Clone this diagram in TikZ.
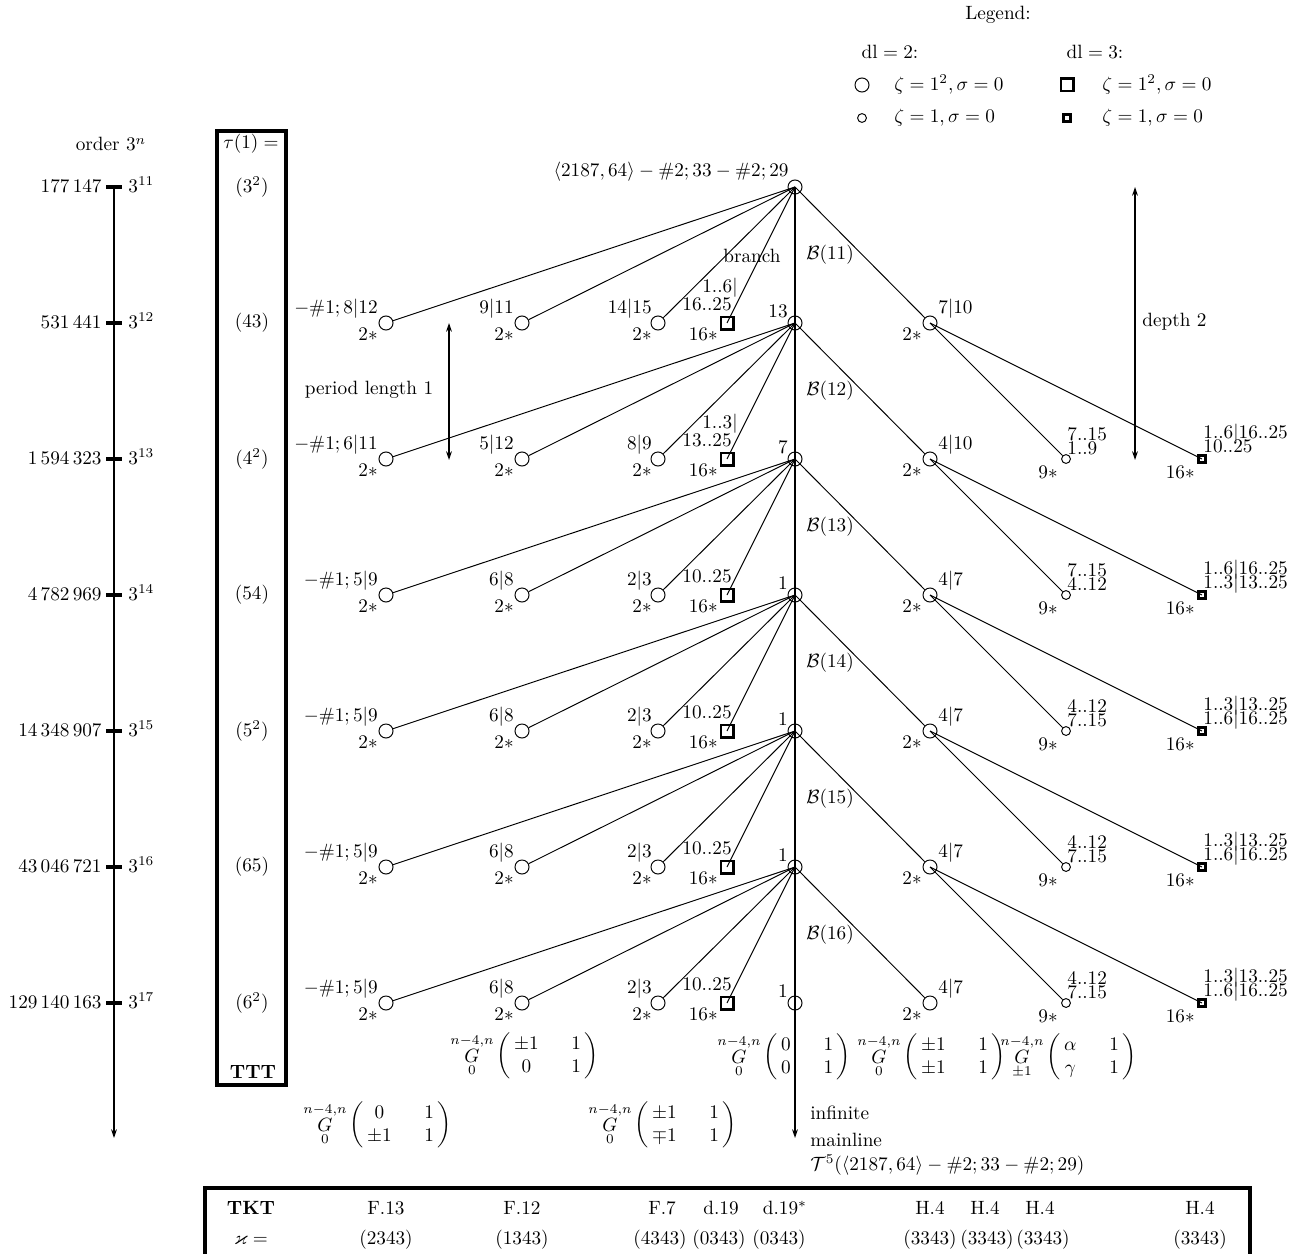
\documentclass[tikz,border=0pt]{standalone}
\usepackage{amsmath,amssymb}
\usetikzlibrary{arrows.meta}
\newcommand\mymat[5]{$\mathop{{G}}\limits^{n-4,n}_{#1}\left(\,\begin{array}{@{}c@{\hspace{17pt}}c@{}}#2&#3\\#4&#5\end{array}\,\right)$}
\newcommand\mylevel[9]{%
 \node[bigc] (a#1) at (386,#3) {};
 \node[lbl,anchor=base east] (a#1t) at (378,#3-10) {#4};
 \node[lbl,anchor=base east] (a#1b) at (378,#3+17) {$2*$};
 \node[bigc] (b#1) at (522,#3) {};
 \node[lbl,anchor=base east] (b#1t) at (514,#3-10) {#5};
 \node[lbl,anchor=base east] (b#1b) at (514,#3+17) {$2*$};
 \node[bigc] (c#1) at (658,#3) {};
 \node[lbl,anchor=base east] (c#1t) at (652,#3-10) {#6};
 \node[lbl,anchor=base east] (c#1b) at (652,#3+17) {$2*$};
 \node[bigsq] (s#1) at (727,#3) {};
 \ifx\relax#7\relax\else\node[lbl,anchor=base east] (s#1u) at (738,#3-31) {#7};\fi
 \node[lbl,anchor=base east] (s#1t) at (732,#3-13) {#8};
 \node[lbl,anchor=base east] (s#1b) at (718,#3+17) {$16*$};
 \node[bigc] (r#1) at (930,#3) {};
 \node[lbl,anchor=base west] (r#1t) at (938,#3-10) {#9};
 \node[lbl,anchor=base east] (r#1b) at (922,#3+17) {$2*$};
 \draw[edge] (m#2.center) -- (a#1);
 \draw[edge] (m#2.center) -- (b#1);
 \draw[edge] (m#2.center) -- (c#1);
 \draw[edge] (m#2.center) -- (s#1.center);
 \draw[edge] (m#2.center) -- (r#1);
}
\newcommand\myright[7]{%
 \node[smallc] (t#1) at (1066,#3) {};
 \node[lbl,anchor=base west] (t#1u) at (1067,#3-19) {#4};
 \node[lbl,anchor=base west] (t#1t) at (1067,#3-5) {#5};
 \node[lbl,anchor=base east] (t#1b) at (1058,#3+19) {$9*$};
 \node[smallsq] (u#1) at (1202,#3) {};
 \node[lbl,anchor=base west] (u#1u) at (1203,#3-21) {#6};
 \node[lbl,anchor=base west] (u#1t) at (1203,#3-7) {#7};
 \node[lbl,anchor=base east] (u#1b) at (1195,#3+19) {$16*$};
 \draw[edge] (r#2.center) -- (t#1);
 \draw[edge] (r#2.center) -- (u#1.center);
}
\begin{document}
\begin{tikzpicture}[x=0.52pt,y=-0.52pt,
  bigc/.style={circle,draw,line width=0.5pt,minimum size=7.3pt,inner sep=0pt},
  smallc/.style={circle,draw,line width=0.5pt,minimum size=4.6pt,inner sep=0pt},
  bigsq/.style={rectangle,draw,line width=1.3pt,minimum size=6.5pt,inner sep=0pt},
  smallsq/.style={rectangle,draw,line width=1.5pt,minimum size=3.3pt,inner sep=0pt},
  edge/.style={line width=0.5pt},
  thickline/.style={line width=1.4pt},
  lbl/.style={inner sep=0pt},
  tip/.style={-{Stealth[length=4.5pt,width=3pt]}},
  dtip/.style={{Stealth[length=4.5pt,width=3pt]}-{Stealth[length=4.5pt,width=3pt]}},
]
\useasboundingbox (0,0) rectangle (1304,1253);

% legend
\node[lbl] (legend) at (998,15) {Legend:};
\node[lbl] (dl2) at (890,52) {dl${}=2$:};
\node[lbl] (dl3) at (1095,52) {dl${}=3$:};
\node[bigc] (lg1) at (862,85) {};
\node[lbl,anchor=west] (lg1t) at (894,85) {$\zeta=1^2,\sigma=0$};
\node[smallc] (lg2) at (862,118) {};
\node[lbl,anchor=west] (lg2t) at (894,118) {$\zeta=1,\sigma=0$};
\node[bigsq] (lg3) at (1067,85) {};
\node[lbl,anchor=west] (lg3t) at (1102,85) {$\zeta=1^2,\sigma=0$};
\node[smallsq] (lg4) at (1067,118) {};
\node[lbl,anchor=west] (lg4t) at (1102,118) {$\zeta=1,\sigma=0$};

% order axis
\node[lbl,anchor=base] (ordlab) at (111,151) {order $3^n$};
\coordinate (atop) at (114,187);
\coordinate (abot) at (114,1138);
\draw[thickline,tip] (atop) -- (abot);
\foreach \e/\num/\yy in {11/{177\,147}/187, 12/{531\,441}/323, 13/{1\,594\,323}/459, 14/{4\,782\,969}/595, 15/{14\,348\,907}/731, 16/{43\,046\,721}/867, 17/{129\,140\,163}/1003} {
  \draw[line width=1.6pt] (106,\yy) -- (122,\yy);
  \node[lbl,anchor=base east] (num\e) at (102,\yy+5) {\num};
  \node[lbl,anchor=base west] (pow\e) at (128,\yy+5) {$3^{\e}$};
}

% tau column
\draw[line width=1.7pt] (217,131) rectangle (286,1085);
\node[lbl] (tauhead) at (251,144) {$\tau(1) =$};
\foreach \i/\t/\yy in {1/{$(3^2)$}/187, 2/{$(43)$}/323, 3/{$(4^2)$}/459, 4/{$(54)$}/595, 5/{$(5^2)$}/731, 6/{$(65)$}/867, 7/{$(6^2)$}/1003} {
  \node[lbl] (tau\i) at (252,\yy) {\t};
}
\node[lbl] (ttt) at (253,1072) {\textbf{TTT}};

% mainline
\node[bigc] (m0) at (795,187) {};
\node[bigc] (m1) at (795,323) {};
\node[bigc] (m2) at (795,459) {};
\node[bigc] (m3) at (795,595) {};
\node[bigc] (m4) at (795,731) {};
\node[bigc] (m5) at (795,867) {};
\node[bigc] (m6) at (795,1003) {};
\coordinate (mend) at (795,1138);
\draw[thickline,tip] (m0.center) -- (mend);
\node[lbl,anchor=base east] (m0l) at (789,176) {$\langle 2187,64\rangle-\#2;33-\#2;29$};
\node[lbl,anchor=base east] (m1l) at (788,317) {$13$};
\node[lbl,anchor=base east] (m2l) at (788,453) {$7$};
\node[lbl,anchor=base east] (m3l) at (788,589) {$1$};
\node[lbl,anchor=base east] (m4l) at (788,725) {$1$};
\node[lbl,anchor=base east] (m5l) at (788,861) {$1$};
\node[lbl,anchor=base east] (m6l) at (788,997) {$1$};
\foreach \i/\yy in {11/255,12/391,13/527,14/663,15/799,16/935} {
  \node[lbl,anchor=west] (B\i) at (806,\yy) {$\mathcal{B}(\i)$};
}
\node[lbl] (branch) at (752,256) {branch};

% levels
\mylevel{1}{0}{323}{$-\#1;8|12$}{$9|11$}{$14|15$}{$1..6|$}{$16..25$}{$7|10$}
\mylevel{2}{1}{459}{$-\#1;6|11$}{$5|12$}{$8|9$}{$1..3|$}{$13..25$}{$4|10$}
\mylevel{3}{2}{595}{$-\#1;5|9$}{$6|8$}{$2|3$}{}{$10..25$}{$4|7$}
\mylevel{4}{3}{731}{$-\#1;5|9$}{$6|8$}{$2|3$}{}{$10..25$}{$4|7$}
\mylevel{5}{4}{867}{$-\#1;5|9$}{$6|8$}{$2|3$}{}{$10..25$}{$4|7$}
\mylevel{6}{5}{1003}{$-\#1;5|9$}{$6|8$}{$2|3$}{}{$10..25$}{$4|7$}
\myright{2}{1}{459}{$7..15$}{$1..9$}{$1..6|16..25$}{$10..25$}
\myright{3}{2}{595}{$7..15$}{$4..12$}{$1..6|16..25$}{$1..3|13..25$}
\myright{4}{3}{731}{$4..12$}{$7..15$}{$1..3|13..25$}{$1..6|16..25$}
\myright{5}{4}{867}{$4..12$}{$7..15$}{$1..3|13..25$}{$1..6|16..25$}
\myright{6}{5}{1003}{$4..12$}{$7..15$}{$1..3|13..25$}{$1..6|16..25$}

% period and depth
\coordinate (p1) at (449,323);
\coordinate (p2) at (449,460);
\draw[thickline,dtip] (p1) -- (p2);
\node[lbl] (period) at (369,390) {period length 1};
\coordinate (d1) at (1135,187);
\coordinate (d2) at (1135,460);
\draw[thickline,dtip] (d1) -- (d2);
\node[lbl,anchor=west] (depth) at (1142,322) {depth 2};

% matrices
\node[lbl,anchor=west] (M1) at (450,1056) {\mymat{0}{\pm1}{1}{0}{1}};
\node[lbl,anchor=west] (M2) at (717,1057) {\mymat{0}{0}{1}{0}{1}};
\node[lbl,anchor=west] (M3) at (857,1057) {\mymat{0}{\pm1}{1}{\pm1}{1}};
\node[lbl,anchor=west] (M4) at (1000,1057) {\mymat{\pm1}{\alpha}{1}{\gamma}{1}};
\node[lbl,anchor=west] (M5) at (303,1125) {\mymat{0}{0}{1}{\pm1}{1}};
\node[lbl,anchor=west] (M6) at (588,1125) {\mymat{0}{\pm1}{1}{\mp1}{1}};

% mainline labels
\node[lbl,anchor=west] (inf) at (810,1113) {infinite};
\node[lbl,anchor=west] (mainl) at (810,1140) {mainline};
\node[lbl,anchor=west] (tfive) at (810,1165) {$\mathcal{T}^5(\langle 2187,64\rangle-\#2;33-\#2;29)$};

% table
\draw[line width=2pt] (205,1262) -- (205,1188) -- (1250,1188) -- (1250,1262);
\foreach \i/\xx/\t in {0/251/{\textbf{TKT}},1/386/F.13,2/522/F.12,3/662/F.7,4/721/d.19,5/785/{d.19$^*$},6/930/H.4,7/985/H.4,8/1040/H.4,9/1200/H.4} {
  \node[lbl] (tkt\i) at (\xx,1208) {\t};
}
\foreach \i/\xx/\t in {0/251/{$\varkappa=$},1/386/(2343),2/522/(1343),3/660/(4343),4/719/(0343),5/779/(0343),6/930/(3343),7/987/(3343),8/1043/(3343),9/1200/(3343)} {
  \node[lbl] (kap\i) at (\xx,1240) {\t};
}
\end{tikzpicture}
\end{document}
